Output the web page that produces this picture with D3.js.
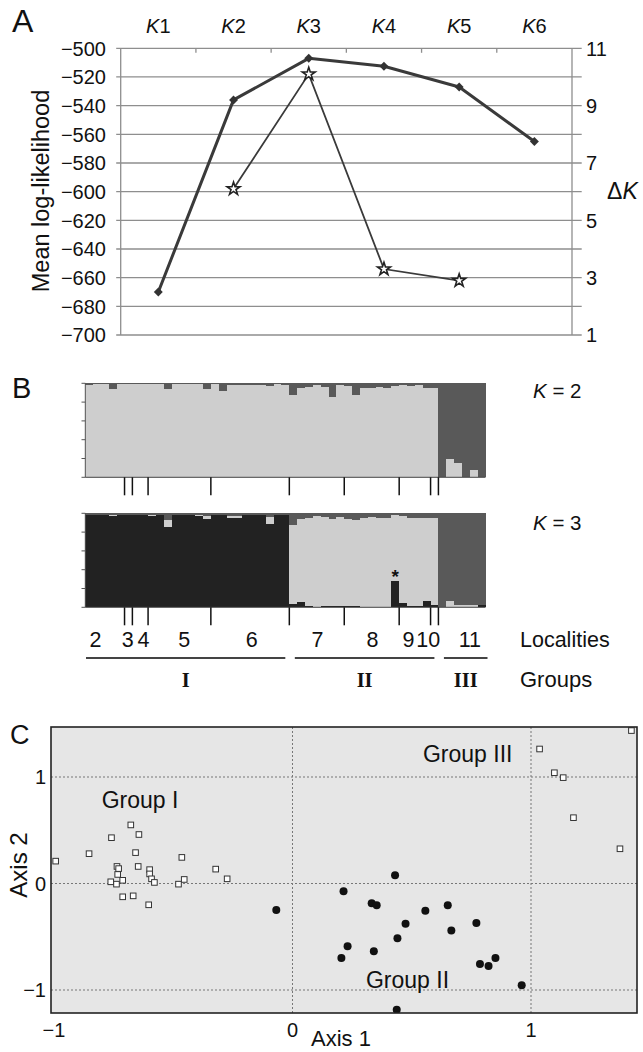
<!DOCTYPE html>
<html><head><meta charset="utf-8">
<script src="https://cdn.jsdelivr.net/npm/d3@7"></script>
<style>
body{margin:0;background:#fff}
svg{display:block}
text{font-family:"Liberation Sans",Arial,Helvetica,sans-serif;fill:#111}
</style>
</head><body>
<svg id="chart" width="643" height="1052"></svg>
<script>
// ---------------- DATA ----------------
// Panel A
const kCats = ["1","2","3","4","5","6"];
const meanLnP = [-670, -536, -507, -512.5, -527, -565];
const deltaK = [null, 6.1, 10.1, 3.3, 2.9, null];
const lnPTicks = [-700,-680,-660,-640,-620,-600,-580,-560,-540,-520,-500];
const deltaKTicks = [1,3,5,7,9,11];

// Panel B (percent membership per individual, 51 individuals)
const k2Dark = [2,1,1,6,1,1,1,1,1,1,6.5,1,1,1,1,6,1,8,2,2,2,2,2,3,1,2,
  12.5,5,3.5,2,3.5,15,2,2.5,12.5,4.5,4.5,3.5,5,2.5,2,2.5,2,5,5,
  100,81,85,100,92,100];
const k3Black = [98.5,98.5,98.5,97,98.5,98.5,98.5,98.5,97.5,98.5,85,98.5,98.5,98.5,97.5,94,98.5,98.5,95,95,98.5,98.5,98.5,88.5,98.5,98.5,
  3,6,1,0.5,1,1,1,1,1,0.5,0.5,0.5,0.5,27.5,5,1,1,6.5,2.5,
  0,0,0,0,0,2];
const k3Light = [0,0,0,1,0,0,0,0,1,0,8,0,0,0,1,3,0,0,2.5,2.5,0,0,0,7.5,0,0,
  84.5,88,94.5,97,95.5,93,95.5,93,92,95,95.5,94.5,95,70.5,92.5,94,94.5,88.5,92.5,
  0,7,2.5,2,2,0];
const k3Mid = [1.5,1.5,1.5,2,1.5,1.5,1.5,1.5,1.5,1.5,7,1.5,1.5,1.5,1.5,3,1.5,1.5,2.5,2.5,1.5,1.5,1.5,4,1.5,1.5,
  12.5,6,4.5,2.5,3.5,6,3.5,6,7,4.5,4,5,4.5,2,2.5,5,4.5,5,5,
  100,93,97.5,98,98,98];
const membershipTicks = [0,20,40,60,80,100];
const localities = ["2","3","4","5","6","7","8","9","10","11"];
const localitySizes = [5,1,2,8,10,7,7,4,1,6];
const localityLabelPos = [1.3,5.4,7.4,12.6,21.2,29.6,36.6,41.2,43.7,49.0];
const groups = ["I","II","III"];
const groupSizes = [26,19,6];
const markedIndividual = 39;

// Panel C (PCoA)
const groupIPts = [[-0.993,0.21],[-0.853,0.28],[-0.759,0.43],[-0.678,0.55],[-0.644,0.46],[-0.658,0.29],
  [-0.736,0.16],[-0.729,0.14],[-0.647,0.16],[-0.599,0.13],[-0.599,0.09],[-0.733,0.085],[-0.762,0.016],
  [-0.738,-0.006],[-0.712,0.03],[-0.591,0.044],[-0.579,0.01],[-0.464,0.245],[-0.454,0.038],[-0.478,-0.006],
  [-0.322,0.135],[-0.274,0.044],[-0.712,-0.125],[-0.668,-0.116],[-0.603,-0.2]];
const groupIIIPts = [[1.036,1.263],[1.098,1.04],[1.135,0.994],[1.178,0.618],[1.373,0.326],[1.421,1.436]];
const groupIIPts = [[-0.068,-0.248],[0.214,-0.072],[0.332,-0.185],[0.353,-0.204],[0.43,0.078],[0.474,-0.379],
  [0.557,-0.257],[0.651,-0.204],[0.666,-0.442],[0.771,-0.37],[0.44,-0.514],[0.231,-0.589],[0.205,-0.699],
  [0.341,-0.636],[0.786,-0.755],[0.822,-0.774],[0.851,-0.699],[0.961,-0.956],[0.437,-1.185]];
const pcoaTicks = [-1,0,1];
const groupLabels = ["Group I","Group II","Group III"];
const groupLabelPos = [[-0.8,0.71],[0.308,-0.985],[0.547,1.145]];

// ---------------- DRAW ----------------
const svg = d3.select("#chart");
const minus = v => String(v).replace("-", "\u2212");
const FS = '"Liberation Serif","Times New Roman",serif';

// ===== Panel A =====
const A = {left:120.7, right:572, top:48.3, bottom:335};
const xA = d3.scaleBand().domain(kCats).range([A.left, A.right]);
const cx = k => xA(k) + xA.bandwidth()/2;
const yL = d3.scaleLinear().domain([-700,-500]).range([A.bottom, A.top]);
const yR = d3.scaleLinear().domain([1,11]).range([A.bottom, A.top]);
const gA = svg.append("g");

gA.selectAll("line.grid").data(lnPTicks).join("line")
  .attr("x1", A.left-4.5).attr("x2", A.right+9.7)
  .attr("y1", d=>yL(d)).attr("y2", d=>yL(d))
  .attr("stroke","#8e8e8e").attr("stroke-width",1.3);
gA.append("line").attr("x1",A.left).attr("x2",A.left).attr("y1",A.top).attr("y2",A.bottom)
  .attr("stroke","#8e8e8e").attr("stroke-width",1.3);
gA.append("line").attr("x1",A.right).attr("x2",A.right).attr("y1",A.top).attr("y2",A.bottom)
  .attr("stroke","#8e8e8e").attr("stroke-width",1.3);
gA.selectAll("line.bt").data(kCats.slice(1)).join("line")
  .attr("x1",d=>xA(d)).attr("x2",d=>xA(d)).attr("y1",A.top).attr("y2",A.top+4.5)
  .attr("stroke","#8e8e8e").attr("stroke-width",1.3);

gA.selectAll("text.yl").data(lnPTicks).join("text")
  .attr("x",106).attr("y",d=>yL(d)).attr("dy","0.36em").attr("text-anchor","end")
  .attr("font-size",20).text(d=>minus(d));
gA.selectAll("text.yr").data(deltaKTicks).join("text")
  .attr("x",586).attr("y",d=>yR(d)).attr("dy","0.36em")
  .attr("font-size",20).text(d=>d);

const kt = gA.selectAll("text.kl").data(kCats).join("text")
  .attr("x",d=>cx(d)).attr("y",33).attr("text-anchor","middle").attr("font-size",20);
kt.append("tspan").attr("font-style","italic").text("K");
kt.append("tspan").text(d=>d);

gA.append("text").attr("transform","translate(41,191) rotate(-90)")
  .attr("text-anchor","middle").attr("dy","0.35em").attr("font-size",23.5).text("Mean log-likelihood");
const dk = gA.append("text").attr("x",607).attr("y",191).attr("dy","0.36em").attr("font-size",23);
dk.append("tspan").text("\u0394");
dk.append("tspan").attr("font-style","italic").text("K");
gA.append("text").attr("x",12).attr("y",32).attr("font-size",32).text("A");

const lnData = kCats.map((k,i)=>({k, v:meanLnP[i]}));
const dkData = kCats.map((k,i)=>({k, v:deltaK[i]})).filter(d=>d.v!=null);
gA.append("path").datum(lnData)
  .attr("d", d3.line().x(d=>cx(d.k)).y(d=>yL(d.v)))
  .attr("fill","none").attr("stroke","#3a3a3a").attr("stroke-width",3).attr("stroke-linejoin","round");
gA.append("path").datum(dkData)
  .attr("d", d3.line().x(d=>cx(d.k)).y(d=>yR(d.v)))
  .attr("fill","none").attr("stroke","#3a3a3a").attr("stroke-width",1.8);
gA.selectAll("path.dia").data(lnData).join("path")
  .attr("transform",d=>`translate(${cx(d.k)},${yL(d.v)}) rotate(45)`)
  .attr("d", d3.symbol(d3.symbolSquare, 40)())
  .attr("fill","#333");
gA.selectAll("path.star").data(dkData).join("path")
  .attr("transform",d=>`translate(${cx(d.k)},${yR(d.v)})`)
  .attr("d", d3.symbol(d3.symbolStar, 52)())
  .attr("fill","#fff").attr("stroke","#222").attr("stroke-width",1.6);

// ===== Panel B =====
const nInd = k2Dark.length;
const idx = d3.range(nInd);
const xB = d3.scaleBand().domain(idx).range([85.3, 485.5]);
const xBi = d3.scaleLinear().domain([0, nInd]).range([85.3, 485.5]);
const cLight = "#cecece", cMid = "#595959", cBlack = "#222";

function structurePanel(top, bottom, rows, keys, colors){
  const y = d3.scaleLinear().domain([0,100]).range([bottom, top]);
  const g = svg.append("g");
  const bars = g.append("g").attr("shape-rendering","crispEdges");
  const series = d3.stack().keys(keys)(rows);
  series.forEach((s,si)=>{
    bars.selectAll(null).data(s).join("rect")
      .attr("x",(d,i)=>xB(i)).attr("width",xB.bandwidth())
      .attr("y",d=>y(d[1])).attr("height",d=>Math.max(0,y(d[0])-y(d[1])))
      .attr("fill",colors[si]);
  });
  g.append("line").attr("x1",85.3).attr("x2",85.3).attr("y1",top).attr("y2",bottom)
    .attr("stroke","#555").attr("stroke-width",1);
  g.selectAll(null).data(membershipTicks).join("line")
    .attr("x1",81.5).attr("x2",85.3).attr("y1",d=>y(d)).attr("y2",d=>y(d))
    .attr("stroke","#555").attr("stroke-width",1);
  g.append("line").attr("x1",85.3).attr("x2",485.5).attr("y1",bottom).attr("y2",bottom)
    .attr("stroke","#444").attr("stroke-width",1);
  const bounds = d3.cumsum(localitySizes).slice(0,-1);
  g.selectAll(null).data(bounds).join("line")
    .attr("x1",d=>xBi(d)).attr("x2",d=>xBi(d)).attr("y1",bottom).attr("y2",bottom+18)
    .attr("stroke","#111").attr("stroke-width",1.5);
  return y;
}
const rows2 = idx.map(i=>({light:100-k2Dark[i], dark:k2Dark[i]}));
structurePanel(383.3, 477.3, rows2, ["light","dark"], [cLight, cMid]);
const rows3 = idx.map(i=>({black:k3Black[i], light:k3Light[i], mid:k3Mid[i]}));
const y3 = structurePanel(513.3, 607.3, rows3, ["black","light","mid"], [cBlack, cLight, cMid]);

svg.append("text").attr("x",xB(markedIndividual)+xB.bandwidth()/2).attr("y",y3(k3Black[markedIndividual])+2)
  .attr("text-anchor","middle").attr("font-size",19).attr("font-weight","bold").text("*");

const kl2 = svg.append("text").attr("x",533).attr("y",398).attr("font-size",20.5);
kl2.append("tspan").attr("font-style","italic").text("K");
kl2.append("tspan").text(" = 2");
const kl3 = svg.append("text").attr("x",533).attr("y",530).attr("font-size",20.5);
kl3.append("tspan").attr("font-style","italic").text("K");
kl3.append("tspan").text(" = 3");
svg.append("text").attr("x",12).attr("y",398).attr("font-size",29).text("B");

svg.selectAll("text.loc").data(localities).join("text")
  .attr("x",(d,i)=>xBi(localityLabelPos[i])).attr("y",647).attr("text-anchor","middle")
  .attr("font-size",21.5).text(d=>d);
svg.append("text").attr("x",520).attr("y",647).attr("font-size",21.5).text("Localities");

const gBounds = [0, ...d3.cumsum(groupSizes)];
const gLines = groups.map((g,i)=>{
  const x1 = xBi(gBounds[i]) + (i>0 ? 5.5 : 0.7);
  const x2 = xBi(gBounds[i+1]) - (i<groups.length-1 ? 4 : -2);
  return {g, x1, x2};
});
svg.selectAll("line.grp").data(gLines).join("line")
  .attr("x1",d=>d.x1).attr("x2",d=>d.x2).attr("y1",658).attr("y2",658)
  .attr("stroke","#444").attr("stroke-width",2);
svg.selectAll("text.grp").data(gLines).join("text")
  .attr("x",d=>(d.x1+d.x2)/2).attr("y",687).attr("text-anchor","middle")
  .attr("font-weight","bold").attr("font-size",20.5).style("font-family",FS)
  .text(d=>d.g);
svg.append("text").attr("x",520).attr("y",687).attr("font-size",22).text("Groups");

// ===== Panel C =====
const C = {left:51, right:637, top:727, bottom:1013};
const xC = d3.scaleLinear().domain([-1,1]).range([54, 531]);
const yC = d3.scaleLinear().domain([-1,1]).range([990, 777]);
const gC = svg.append("g");
gC.append("rect").attr("x",C.left).attr("y",C.top).attr("width",C.right-C.left).attr("height",C.bottom-C.top)
  .attr("fill","#e6e6e6");
svg.append("clipPath").attr("id","clipC").append("rect")
  .attr("x",C.left).attr("y",C.top).attr("width",C.right-C.left).attr("height",C.bottom-C.top);
gC.selectAll("line.vx").data(pcoaTicks.filter(d=>d>-1)).join("line")
  .attr("x1",d=>xC(d)).attr("x2",d=>xC(d)).attr("y1",C.top).attr("y2",C.bottom)
  .attr("stroke","#777").attr("stroke-width",1).attr("stroke-dasharray","2,2");
gC.selectAll("line.hy").data(pcoaTicks).join("line")
  .attr("x1",C.left).attr("x2",C.right).attr("y1",d=>yC(d)).attr("y2",d=>yC(d))
  .attr("stroke","#777").attr("stroke-width",1).attr("stroke-dasharray","2,2");

const pts = gC.append("g").attr("clip-path","url(#clipC)");
pts.selectAll("circle").data(groupIIPts).join("circle")
  .attr("cx",d=>xC(d[0])).attr("cy",d=>yC(d[1])).attr("r",4).attr("fill","#111");
pts.selectAll("rect.sq").data(groupIPts.concat(groupIIIPts)).join("rect")
  .attr("x",d=>xC(d[0])-2.8).attr("y",d=>yC(d[1])-2.8).attr("width",5.6).attr("height",5.6)
  .attr("fill","#fff").attr("stroke","#333").attr("stroke-width",1);

gC.append("rect").attr("x",C.left).attr("y",C.top).attr("width",C.right-C.left).attr("height",C.bottom-C.top)
  .attr("fill","none").attr("stroke","#222").attr("stroke-width",1.6);

gC.selectAll("text.gl").data(groupLabels).join("text")
  .attr("x",(d,i)=>xC(groupLabelPos[i][0])).attr("y",(d,i)=>yC(groupLabelPos[i][1]))
  .attr("font-size",23).text(d=>d);

gC.selectAll("text.xt").data(pcoaTicks).join("text")
  .attr("x",d=>xC(d)).attr("y",1037).attr("text-anchor","middle").attr("font-size",20).text(d=>minus(d));
gC.selectAll("text.yt").data(pcoaTicks).join("text")
  .attr("x",46).attr("y",d=>yC(d)).attr("dy","0.36em").attr("text-anchor","end").attr("font-size",20).text(d=>minus(d));
gC.append("text").attr("x",341).attr("y",1046).attr("text-anchor","middle").attr("font-size",22).text("Axis 1");
gC.append("text").attr("transform","translate(19,865) rotate(-90)").attr("text-anchor","middle")
  .attr("dy","0.35em").attr("font-size",24).text("Axis 2");
gC.append("text").attr("x",10).attr("y",744).attr("font-size",27).text("C");
</script>
</body></html>
